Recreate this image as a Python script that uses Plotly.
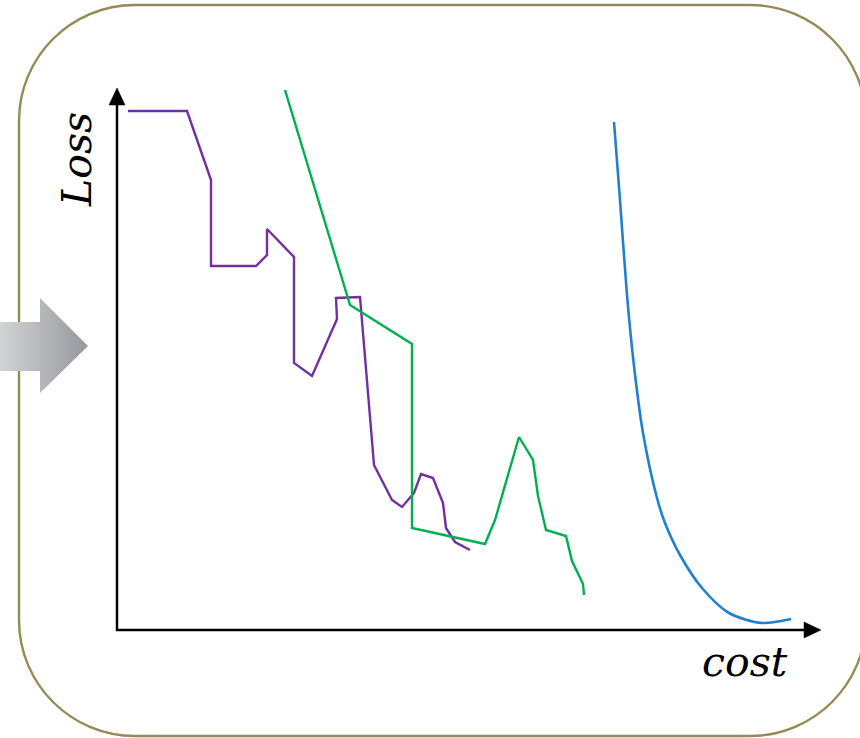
import plotly.graph_objects as go

# ---- data (units = pixels from the axis origin) ----
ORIGIN_PX = (117, 630)

purple_px_x = [128, 187, 211, 211, 256, 267, 267, 294, 294, 312, 337, 336, 360, 374, 392, 402,
               414, 421, 433, 443, 446, 455, 470]
purple_px_y = [111, 111, 180, 266, 266, 255, 229, 257, 363, 376, 319, 298, 297, 465, 500, 507,
               493, 474, 478, 503, 528, 542, 550]

green_px_x = [285, 350, 412, 412, 485, 495, 519, 533, 538, 546, 566, 572, 583, 584]
green_px_y = [90, 305, 344, 528, 544, 520, 437, 460, 496, 530, 536, 561, 584, 595]

blue_px_x = [614, 620, 627, 634, 643, 657, 665, 680, 702, 729, 762, 791]
blue_px_y = [122, 200, 295, 366, 433, 498, 523, 555, 588, 613, 623, 619]

x_label = "cost"
y_label = "Loss"


def X(px):
    return px - ORIGIN_PX[0]


def Y(py):
    return ORIGIN_PX[1] - py


W, H = 860, 738

fig = go.Figure()

# gradient arrow on the left
arrow_px = [(0, 322), (40, 322), (40, 298), (88, 346), (40, 393), (40, 371), (0, 371), (0, 322)]
fig.add_trace(go.Scatter(
    x=[X(p[0]) for p in arrow_px], y=[Y(p[1]) for p in arrow_px],
    mode="lines", fill="toself", line=dict(width=0, color="rgba(0,0,0,0)"),
    fillgradient=dict(type="horizontal", colorscale=[[0, "#d2d3d5"], [1, "#97989d"]]),
    hoverinfo="skip", showlegend=False,
))

for xs, ys, col, w, shp in [
    (purple_px_x, purple_px_y, "#7030A0", 2.4, "linear"),
    (green_px_x, green_px_y, "#00B050", 2.4, "linear"),
    (blue_px_x, blue_px_y, "#1F80D0", 2.6, "spline"),
]:
    fig.add_trace(go.Scatter(
        x=[X(v) for v in xs], y=[Y(v) for v in ys], mode="lines",
        line=dict(color=col, width=w, shape=shp, smoothing=0.8), hoverinfo="skip",
        showlegend=False,
    ))

# rounded frame
L, T, R, B, r = 19, 5, 866, 736, 116
k = 0.5523 * r


def P(px, py):
    return f"{X(px)},{Y(py)}"


frame = (f"M {P(L, T + r)} C {P(L, T + r - k)} {P(L + r - k, T)} {P(L + r, T)} "
         f"L {P(R - r, T)} C {P(R - r + k, T)} {P(R, T + r - k)} {P(R, T + r)} "
         f"L {P(R, B - r)} C {P(R, B - r + k)} {P(R - r + k, B)} {P(R - r, B)} "
         f"L {P(L + r, B)} C {P(L + r - k, B)} {P(L, B - r + k)} {P(L, B - r)} Z")
shapes = [dict(type="path", path=frame, xref="x", yref="y", layer="below",
               line=dict(color="#948A54", width=2.4))]

# axes with arrowheads
shapes.append(dict(type="line", xref="x", yref="y", x0=X(117), y0=Y(631), x1=X(117), y1=Y(100),
                   line=dict(color="black", width=2.5)))
shapes.append(dict(type="line", xref="x", yref="y", x0=X(116), y0=Y(630), x1=X(808), y1=Y(630),
                   line=dict(color="black", width=2.5)))
shapes.append(dict(type="path", xref="x", yref="y",
                   path=f"M {P(117, 88)} L {P(125, 105)} L {P(109, 105)} Z",
                   fillcolor="black", line=dict(color="black", width=0.5)))
shapes.append(dict(type="path", xref="x", yref="y",
                   path=f"M {P(821, 630)} L {P(804, 622)} L {P(804, 638)} Z",
                   fillcolor="black", line=dict(color="black", width=0.5)))

label_font = dict(family="DejaVu Serif", size=41, color="black", style="italic")
annotations = [
    dict(x=X(77), y=Y(160), xref="x", yref="y", text=y_label, textangle=-90,
         showarrow=False, font=label_font),
    dict(x=X(745), y=Y(662), xref="x", yref="y", text=x_label,
         showarrow=False, font=label_font),
]

fig.update_layout(
    width=W, height=H, margin=dict(l=0, r=0, t=0, b=0),
    paper_bgcolor="white", plot_bgcolor="white",
    xaxis=dict(range=[X(0), X(W)], visible=False, fixedrange=True),
    yaxis=dict(range=[Y(H), Y(0)], visible=False, fixedrange=True),
    shapes=shapes, annotations=annotations, showlegend=False,
)

fig.write_html("out.html", config={"displayModeBar": False},
               post_script="document.body.style.margin='0';document.body.style.overflow='hidden';")
